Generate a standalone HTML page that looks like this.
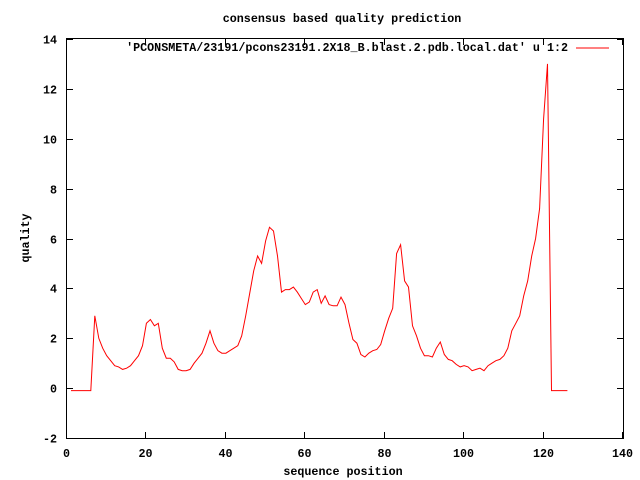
<!DOCTYPE html>
<html><head><meta charset="utf-8"><style>
body{margin:0;background:#fff}
svg{display:block}
text{font-family:"Liberation Mono","DejaVu Sans Mono",monospace;font-size:11.7px;font-weight:bold;fill:#000}
</style></head><body>
<svg id="chart" width="640" height="480" xmlns="http://www.w3.org/2000/svg">
<text x="342" y="22" text-anchor="middle">consensus based quality prediction</text>
<text transform="translate(29,238) rotate(-90)" text-anchor="middle">quality</text>
<text x="343" y="475" text-anchor="middle">sequence position</text>
<g id="axes"></g>
<rect x="66.5" y="38.5" width="557" height="400" fill="none" stroke="#000" stroke-width="1"/>
<text x="568" y="51" text-anchor="end">'PCONSMETA/23191/pcons23191.2X18_B.blast.2.pdb.local.dat' u 1:2</text>
<line x1="576" y1="48" x2="609" y2="48" stroke="red" stroke-width="1"/>
<polyline id="series" fill="none" stroke="#f00" stroke-width="1"/>
</svg>
<script>
const xTicks=[0,20,40,60,80,100,120,140];
const yTicks=[-2,0,2,4,6,8,10,12,14];
const positions=[];for(let i=1;i<=126;i++)positions.push(i);
const quality=[-0.1,-0.1,-0.1,-0.1,-0.1,-0.1,2.9,2.0,1.6,1.3,1.1,0.9,0.85,0.75,0.8,0.9,1.1,1.3,1.7,2.6,
2.75,2.5,2.6,1.6,1.2,1.2,1.05,0.75,0.7,0.7,0.75,1.0,1.2,1.4,1.8,2.3,1.8,1.5,1.4,1.4,
1.5,1.6,1.7,2.1,2.9,3.8,4.7,5.3,5.0,5.9,6.45,6.3,5.3,3.85,3.95,3.95,4.05,3.85,3.6,3.35,
3.45,3.85,3.95,3.4,3.7,3.35,3.3,3.3,3.65,3.35,2.6,1.95,1.8,1.35,1.25,1.4,1.5,1.55,1.75,2.3,
2.8,3.2,5.4,5.75,4.3,4.05,2.5,2.1,1.6,1.3,1.3,1.25,1.6,1.85,1.35,1.15,1.1,0.95,0.85,0.9,
0.85,0.7,0.75,0.8,0.7,0.9,1.0,1.1,1.15,1.3,1.6,2.3,2.6,2.9,3.7,4.3,5.3,6.0,7.2,10.8,
13.0,-0.1,-0.1,-0.1,-0.1,-0.1];
const X0=67,X1=623,Y0=438,Y1=39;
const xs=v=>X0+(v-0)/(140-0)*(X1-X0);
const ys=v=>Y0-(v+2)/(14+2)*(Y0-Y1);
const NS="http://www.w3.org/2000/svg";
const axes=document.getElementById('axes');
function mk(tag,attrs){const e=document.createElementNS(NS,tag);for(const k in attrs)e.setAttribute(k,attrs[k]);return e;}
xTicks.forEach(t=>{
  const x=Math.round(xs(t))-0.5;
  const a=mk('line',{x1:x,x2:x,y1:438,y2:432,stroke:'#000'});
  
  
  axes.appendChild(a);
  const b=mk('line',{x1:x,x2:x,y1:39,y2:45,stroke:'#000'});
  
  
  axes.appendChild(b);
  const tx=mk('text',{x:x,y:457,'text-anchor':'middle'});
  tx.textContent=t;
  
  
  axes.appendChild(tx);
});
yTicks.forEach(t=>{
  const y=Math.round(ys(t))+0.5;
  const a=mk('line',{x1:67,x2:73,y1:y,y2:y,stroke:'#000'});
  
  
  axes.appendChild(a);
  const b=mk('line',{x1:617,x2:623,y1:y,y2:y,stroke:'#000'});
  
  
  axes.appendChild(b);
  const tx=mk('text',{x:57,y:y+4,'text-anchor':'end'});
  tx.textContent=t;
  
  
  axes.appendChild(tx);
});
document.getElementById('series').setAttribute('points',positions.map((p,i)=>xs(p).toFixed(1)+','+ys(quality[i]).toFixed(1)).join(' '));
</script>
</body></html>
